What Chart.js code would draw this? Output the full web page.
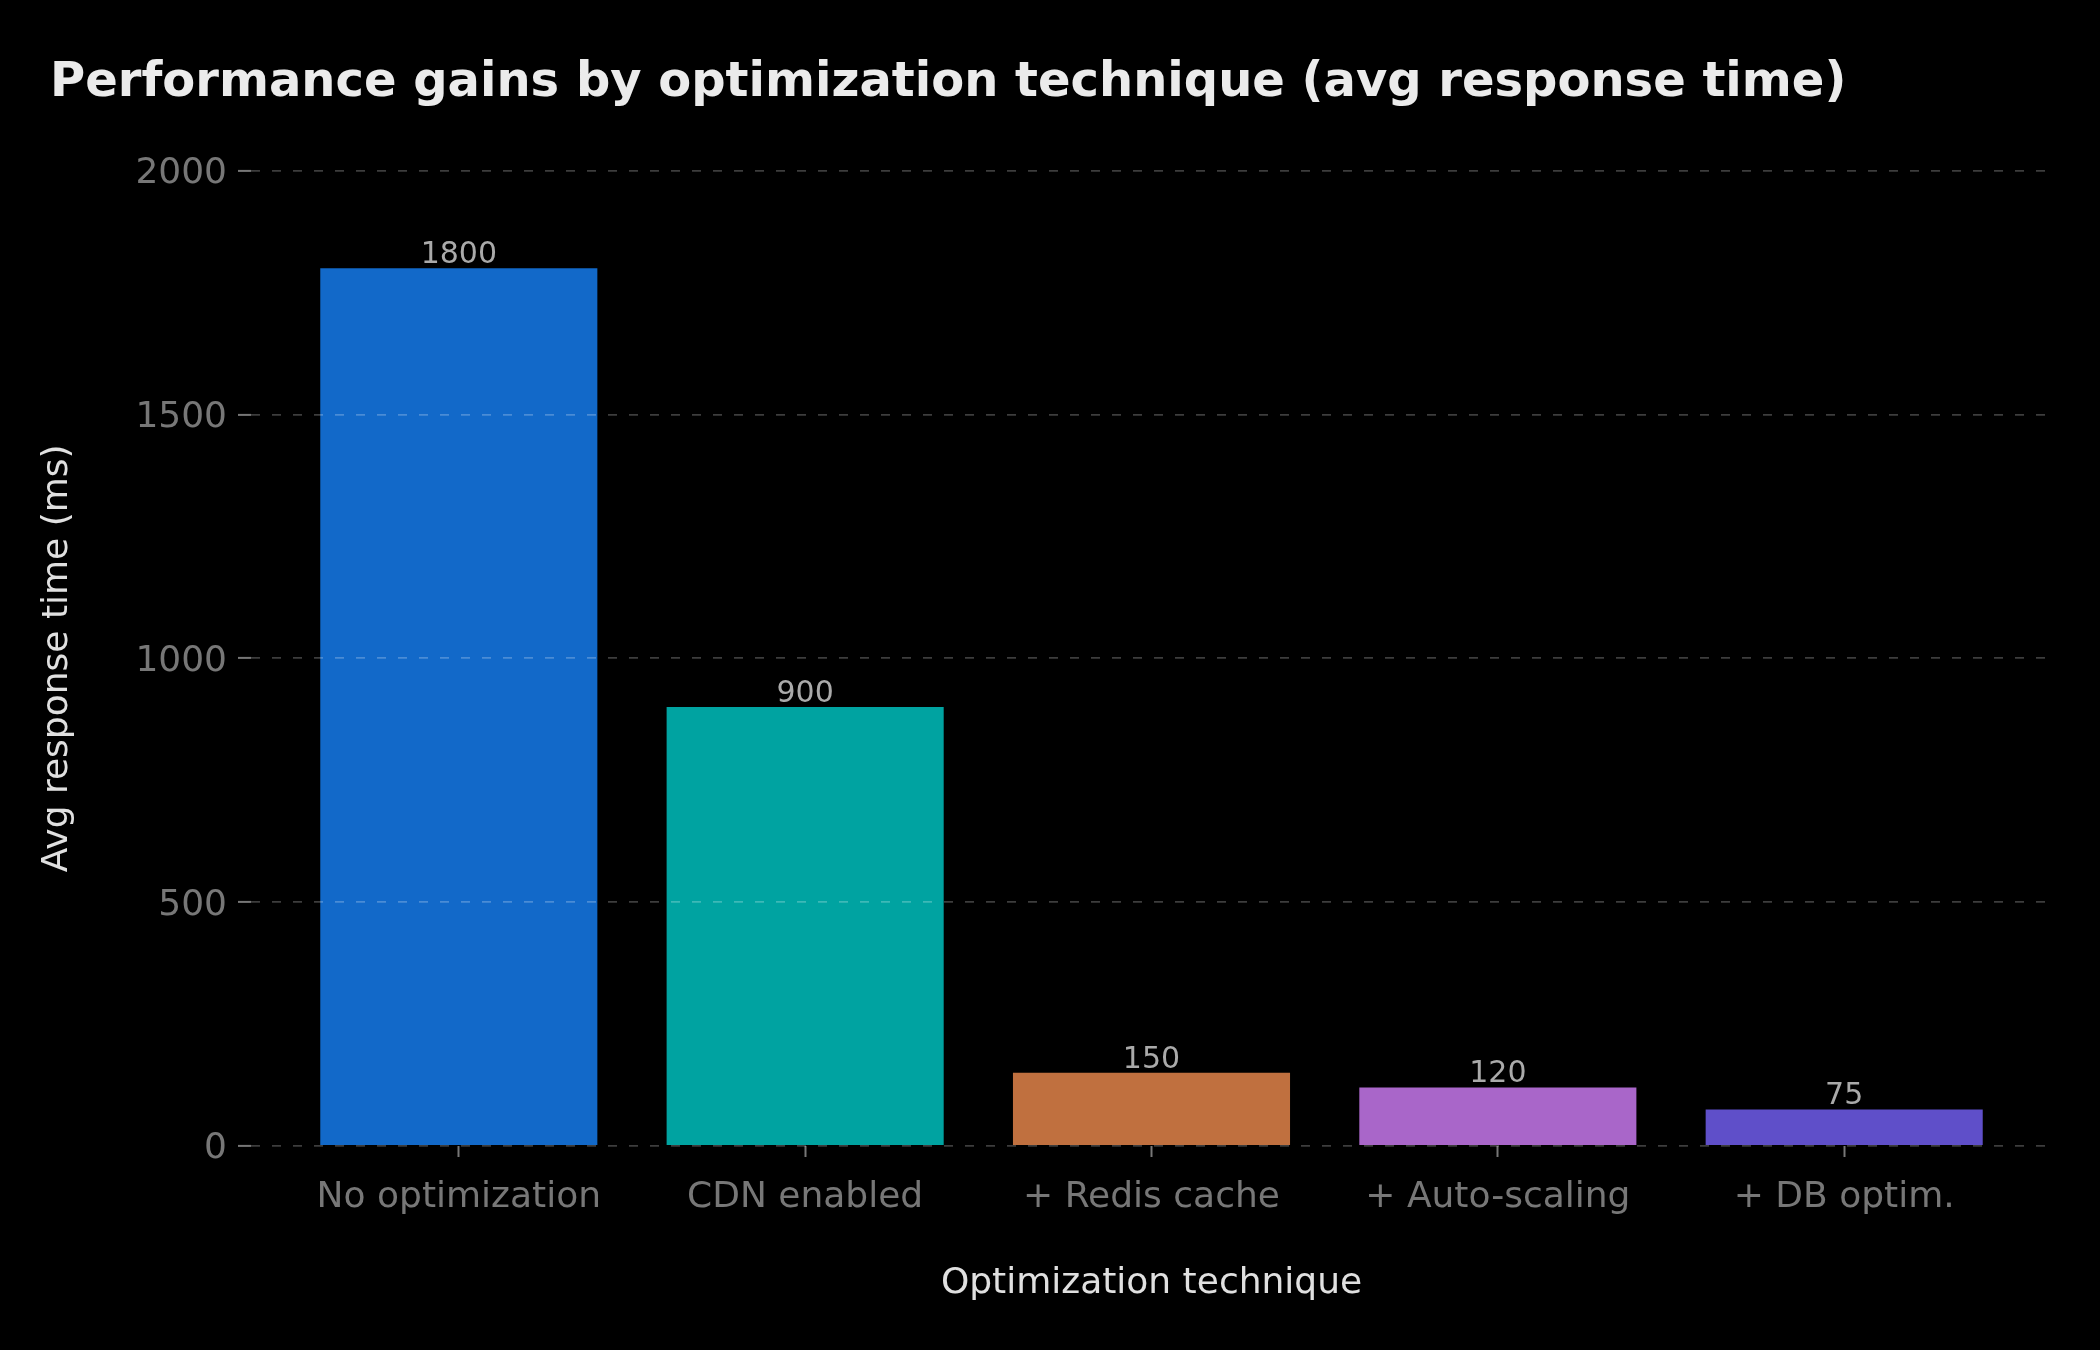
<!DOCTYPE html>
<html lang="en">
<head>
  <meta charset="UTF-8" />
  <title>Performance gains by optimization technique</title>
  <script src="https://cdn.jsdelivr.net/npm/chart.js@4"></script>
  <style>
    * { margin: 0; padding: 0; box-sizing: border-box; }
    body { background: #000; }
    #wrap { width: 2100px; height: 1350px; }
    canvas { display: block; background: #000; }
  </style>
</head>
<body>
  <div id="wrap"><canvas id="perfChart" width="2100" height="1350"></canvas></div>
  <script>
    // chart data
    const categories = ['No optimization', 'CDN enabled', '+ Redis cache', '+ Auto-scaling', '+ DB optim.'];
    const responseTimes = [1800, 900, 150, 120, 75];
    const barColors = ['#1269c9', '#00a3a1', '#c0703f', '#a966c9', '#5f4fc9'];
    const yTickValues = [0, 500, 1000, 1500, 2000];

    Chart.defaults.font.family = "'DejaVu Sans', sans-serif";

    // numbers above each bar
    const valueLabels = {
      id: 'valueLabels',
      afterDatasetsDraw(chart) {
        const ctx = chart.ctx;
        const meta = chart.getDatasetMeta(0);
        ctx.save();
        ctx.font = "30px 'DejaVu Sans', sans-serif";
        ctx.fillStyle = '#aaaaaa';
        ctx.textAlign = 'center';
        ctx.textBaseline = 'alphabetic';
        meta.data.forEach((bar, i) => {
          ctx.fillText(String(responseTimes[i]), bar.x, bar.y - 5);
        });
        ctx.restore();
      }
    };

    const ctx = document.getElementById('perfChart').getContext('2d');
    new Chart(ctx, {
      type: 'bar',
      data: {
        datasets: [{
          data: responseTimes.map((v, i) => ({ x: i, y: v })),
          backgroundColor: barColors,
          borderWidth: 0,
          barPercentage: 0.8,
          categoryPercentage: 1.0
        }]
      },
      options: {
        responsive: false,
        animation: false,
        devicePixelRatio: 1,
        layout: { padding: { left: 50, right: 48, top: 0, bottom: 0 } },
        plugins: {
          legend: { display: false },
          tooltip: { enabled: false },
          title: {
            display: true,
            text: 'Performance gains by optimization technique (avg response time)',
            align: 'start',
            color: '#ebebeb',
            font: { size: 48, weight: 'bold' },
            padding: { top: 55, bottom: 58 }
          }
        },
        scales: {
          x: {
            type: 'linear',
            min: -0.6,
            max: 4.6,
            offset: false,
            afterBuildTicks: (scale) => {
              scale.ticks = categories.map((c, i) => ({ value: i }));
            },
            afterFit: (scale) => { scale.height = 204; },
            ticks: {
              callback: (v) => categories[v],
              color: '#777777',
              font: { size: 36 },
              padding: 19,
              maxRotation: 0,
              autoSkip: false
            },
            grid: {
              offset: false,
              drawOnChartArea: false,
              drawTicks: true,
              tickLength: 11,
              tickWidth: 2,
              tickColor: '#777777',
              color: '#777777'
            },
            border: { display: false },
            title: {
              display: true,
              text: 'Optimization technique',
              color: '#e0e0e0',
              font: { size: 36 },
              padding: { top: 0, bottom: 45 }
            }
          },
          y: {
            min: 0,
            max: 2000,
            afterBuildTicks: (scale) => {
              scale.ticks = yTickValues.map(v => ({ value: v }));
            },
            afterFit: (scale) => { scale.width = 201; },
            ticks: {
              callback: (v) => String(v),
              color: '#777777',
              font: { size: 36 },
              padding: 11,
              labelOffset: 3
            },
            grid: {
              z: 1,
              color: 'rgba(255,255,255,0.24)',
              lineWidth: 1.8,
              tickLength: 13,
              tickWidth: 2,
              tickColor: '#777777',
              tickBorderDash: []
            },
            border: { display: false, dash: [9, 12] },
            title: {
              display: true,
              text: 'Avg response time (ms)',
              color: '#e0e0e0',
              font: { size: 36 },
              padding: { top: -14, bottom: 0 }
            }
          }
        }
      },
      plugins: [valueLabels]
    });
  </script>
</body>
</html>
